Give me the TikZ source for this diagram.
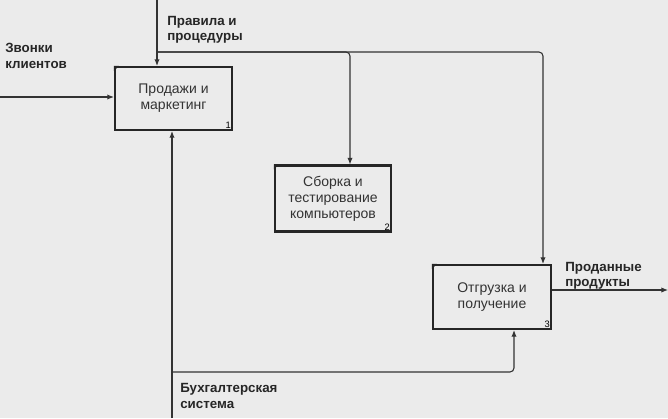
\documentclass[tikz,border=0pt]{standalone}
\usepackage{fontspec}
\setmainfont{Liberation Sans}
\usetikzlibrary{arrows.meta}
\begin{document}
\begin{tikzpicture}[x=0.75pt,y=-0.75pt,
  fbox/.style={draw=black!85,line width=1.6pt,fill=none,inner sep=0,align=center,font=\fontsize{10.5}{12}\selectfont,text=black!80},
  arr/.style={draw=black!80,line width=0.8pt,-{Latex[length=5pt,width=4pt]},rounded corners=3pt},
  lbl/.style={font=\bfseries\fontsize{10}{11.5}\selectfont,align=left,anchor=west,inner sep=0,text=black!85}]
\fill[black!8] (0,0) rectangle (668,418);
\useasboundingbox (0,0) rectangle (668,418);
\node[fbox,minimum width=117*0.75pt,minimum height=63*0.75pt] (b1) at (173.5,98.5) {Продажи и\\маркетинг};
\node[fbox,minimum width=116*0.75pt,minimum height=66*0.75pt] (b2) at (333,198.5) {Сборка и\\тестирование\\компьютеров};
\node[fbox,minimum width=118*0.75pt,minimum height=64*0.75pt] (b3) at (492,297) {Отгрузка и\\получение};
\foreach \b/\n in {b1/1,b2/2,b3/3}{
  \node[anchor=south east,inner sep=1.5pt,font=\fontsize{7}{7}\selectfont] at (\b.south east) {\n};
  \fill[black!85] (\b.north west) -- ++(5,0) -- ++(-5,5) -- cycle;
}
\coordinate (ctop) at (157,0);
\coordinate (in0) at (0,97);
\coordinate (mbot) at (172,418);
\coordinate (outE) at (668,290);
\coordinate (j1) at (157,52);
\coordinate (j2) at (172,372);
\draw[arr] (ctop) -- (b1.north -| ctop);
\draw[arr] (j1) -- (350,52) -- (b2.north -| 350,0);
\draw[arr] (j1) -- (543,52) -- (b3.north -| 543,0);
\draw[arr] (in0) -- (b1.west |- in0);
\draw[arr] (mbot) -- (b1.south -| mbot);
\draw[arr] (j2) -- (514,372) -- (b3.south -| 514,0);
\draw[arr] (b3.east |- outE) -- (outE);
\node[lbl] (l1) at (167,30) {Правила и\\процедуры};
\node[lbl] (l2) at (5,56) {Звонки\\клиентов};
\node[lbl] (l3) at (180,396) {Бухгалтерская\\система};
\node[lbl] (l4) at (565,276) {Проданные\\продукты};
\end{tikzpicture}
\end{document}
